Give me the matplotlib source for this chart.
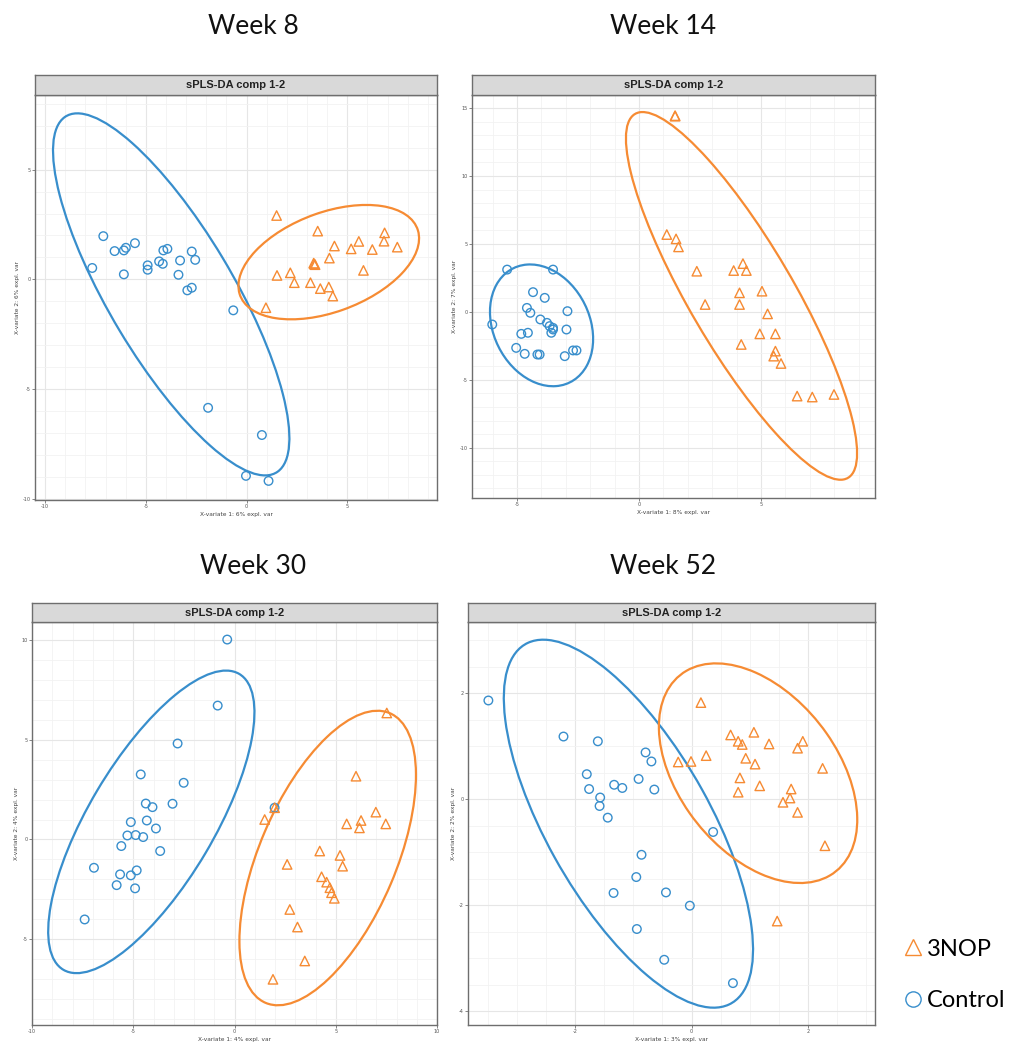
import numpy as np
import matplotlib
matplotlib.use("Agg")
import matplotlib.pyplot as plt
from matplotlib.patches import Ellipse
from matplotlib.lines import Line2D

# ---------------- data ----------------
week_titles = ["Week 8", "Week 14", "Week 30", "Week 52"]
strip_title = "sPLS-DA comp 1-2"
xlabels = ["X-variate 1: 6% expl. var", "X-variate 1: 8% expl. var",
           "X-variate 1: 4% expl. var", "X-variate 1: 3% expl. var"]
ylabels = ["X-variate 2: 6% expl. var", "X-variate 2: 7% expl. var",
           "X-variate 2: 4% expl. var", "X-variate 2: 2% expl. var"]
groups = ["3NOP", "Control"]

# Week 8
w8_ctrl_x = [-7.11, -7.66, -6.55, -6.09, -5.99, -5.54, -6.09, -4.91, -4.91, -4.34, -4.16, -4.13,
             -3.93, -3.30, -3.38, -2.72, -2.55, -2.94, -2.72, -0.66, -1.91, 0.76, -0.03, 1.09]
w8_ctrl_y = [1.97, 0.52, 1.29, 1.32, 1.44, 1.65, 0.23, 0.64, 0.44, 0.82, 0.71, 1.32,
             1.39, 0.86, 0.21, 1.27, 0.89, -0.50, -0.38, -1.41, -5.85, -7.09, -8.95, -9.18]
w8_nop_x = [1.49, 3.53, 4.36, 4.11, 5.19, 5.57, 6.24, 6.85, 6.82, 7.48, 5.80, 3.33, 3.40, 3.36,
            1.51, 2.17, 2.37, 3.17, 3.66, 4.08, 4.28, 0.96]
w8_nop_y = [2.91, 2.20, 1.52, 0.97, 1.39, 1.73, 1.36, 2.12, 1.74, 1.47, 0.41, 0.74, 0.67, 0.70,
            0.18, 0.30, -0.15, -0.15, -0.42, -0.35, -0.76, -1.29]

# Week 14
w14_ctrl_x = [-5.40, -3.52, -4.34, -3.86, -4.59, -4.45, -2.93, -6.01, -4.04, -3.77, -3.66, -3.52,
              -3.59, -4.55, -4.82, -2.97, -5.03, -4.68, -4.16, -4.07, -3.04, -2.70, -2.56, -3.52]
w14_ctrl_y = [3.11, 3.11, 1.45, 1.03, 0.29, -0.07, 0.05, -0.93, -0.56, -0.81, -1.05, -1.18,
              -1.54, -1.54, -1.62, -1.30, -2.65, -3.09, -3.14, -3.14, -3.26, -2.84, -2.84, -1.30]
w14_nop_x = [1.48, 1.48, 1.14, 1.52, 1.62, 2.37, 3.88, 4.26, 4.40, 4.12, 4.12, 2.71, 5.04, 5.27,
             4.95, 5.59, 4.19, 5.59, 5.52, 5.82, 6.48, 7.10, 7.99]
w14_nop_y = [14.44, 14.40, 5.69, 5.37, 4.78, 2.99, 3.04, 3.55, 3.04, 1.40, 0.54, 0.54, 1.52, -0.15,
             -1.62, -1.62, -2.40, -2.89, -3.26, -3.80, -6.20, -6.27, -6.08]

# Week 30
w30_ctrl_x = [-0.36, -0.83, -2.81, -4.63, -2.51, -4.38, -4.05, -3.06, -5.12, -4.33, -3.88, -5.29,
              -4.88, -4.51, -5.59, -3.67, -6.94, -4.83, -5.12, -5.65, -5.82, -4.91, -7.40, 1.98]
w30_ctrl_y = [10.02, 6.71, 4.81, 3.26, 2.84, 1.80, 1.62, 1.79, 0.87, 0.95, 0.55, 0.20,
              0.22, 0.12, -0.33, -0.58, -1.42, -1.55, -1.80, -1.75, -2.29, -2.45, -4.01, 1.59]
w30_nop_x = [7.52, 6.00, 1.98, 1.49, 6.98, 5.54, 6.25, 6.17, 7.47, 4.21, 5.21, 5.34, 2.60,
             4.30, 4.55, 4.71, 4.79, 4.93, 2.73, 3.11, 3.47, 1.90]
w30_nop_y = [6.34, 3.17, 1.59, 1.00, 1.37, 0.78, 0.95, 0.58, 0.78, -0.58, -0.80, -1.34, -1.25,
             -1.87, -2.14, -2.42, -2.67, -2.95, -3.51, -4.39, -6.09, -7.01]

# Week 52
w52_ctrl_x = [-3.49, -2.20, -1.61, -0.79, -0.69, -1.80, -0.91, -1.33, -1.19, -1.76, -0.64, -1.57,
              -1.58, -1.44, 0.37, -0.86, -0.95, -1.34, -0.44, -0.03, -0.94, -0.47, 0.71]
w52_ctrl_y = [1.86, 1.18, 1.09, 0.88, 0.71, 0.47, 0.38, 0.27, 0.21, 0.19, 0.18, 0.03,
              -0.13, -0.35, -0.62, -1.05, -1.47, -1.77, -1.76, -2.01, -2.45, -3.03, -3.47]
w52_nop_x = [0.16, 0.67, 1.07, 0.80, 0.87, 1.33, 1.91, 1.82, 0.25, -0.23, -0.01, 0.93, 1.09,
             2.25, 0.83, 1.17, 0.80, 1.71, 1.69, 1.57, 1.82, 2.29, 1.47]
w52_nop_y = [1.82, 1.21, 1.26, 1.09, 1.03, 1.04, 1.09, 0.96, 0.82, 0.70, 0.71, 0.77, 0.66,
             0.58, 0.40, 0.25, 0.13, 0.19, 0.02, -0.06, -0.25, -0.88, -2.30]

ctrl_x = [w8_ctrl_x, w14_ctrl_x, w30_ctrl_x, w52_ctrl_x]
ctrl_y = [w8_ctrl_y, w14_ctrl_y, w30_ctrl_y, w52_ctrl_y]
nop_x = [w8_nop_x, w14_nop_x, w30_nop_x, w52_nop_x]
nop_y = [w8_nop_y, w14_nop_y, w30_nop_y, w52_nop_y]

xlims = [(-10.5, 9.45), (-6.84, 9.67), (-10.0, 10.0), (-3.84, 3.15)]
ylims = [(-10.05, 8.4), (-13.7, 15.96), (-9.3, 10.9), (-4.26, 3.34)]
xticks = [[-10, -5, 0, 5], [-5, 0, 5], [-10, -5, 0, 5, 10], [-2, 0, 2]]
yticks = [[-10, -5, 0, 5], [-10, -5, 0, 5, 10, 15], [-5, 0, 5, 10], [-4, -2, 0, 2]]

ellipse_level_t = np.sqrt(-2 * np.log(1 - 0.95))  # sqrt(qchisq(0.95, 2))

# ---------------- style ----------------
BLUE = "#388ECC"
ORANGE = "#F68B33"
W, H = 1015, 1046
DPI = 100

fig = plt.figure(figsize=(W / DPI, H / DPI), dpi=DPI)
fig.patch.set_facecolor("white")


def rect(l, t, r, b):
    return [l / W, 1 - b / H, (r - l) / W, (b - t) / H]


panels = [(35, 95, 437, 500), (472, 95, 875, 498), (32, 622, 437, 1025), (468, 622, 875, 1025)]
strips = [(35, 75, 437, 95), (472, 75, 875, 95), (32, 603, 437, 622), (468, 603, 875, 622)]
title_pos = [(253, 26), (663, 26), (253, 566), (663, 566)]


def conf_ellipse(ax, x, y, color):
    x = np.asarray(x)
    y = np.asarray(y)
    cov = np.cov(x, y)
    vals, vecs = np.linalg.eigh(cov)
    order = vals.argsort()[::-1]
    vals, vecs = vals[order], vecs[:, order]
    angle = np.degrees(np.arctan2(vecs[1, 0], vecs[0, 0]))
    e = Ellipse((x.mean(), y.mean()), 2 * ellipse_level_t * np.sqrt(vals[0]),
                2 * ellipse_level_t * np.sqrt(vals[1]), angle=angle,
                fill=False, edgecolor=color, linewidth=1.6, zorder=3)
    ax.add_patch(e)


for i in range(4):
    ax = fig.add_axes(rect(*panels[i]))
    ax.set_facecolor("white")
    ax.set_xlim(*xlims[i])
    ax.set_ylim(*ylims[i])
    ax.set_xticks(xticks[i])
    ax.set_yticks(yticks[i])
    ax.set_xticklabels([str(v) for v in xticks[i]], fontsize=3.5, color="#555555")
    ax.set_yticklabels([str(v) for v in yticks[i]], fontsize=3.5, color="#555555")
    ax.minorticks_on()
    ax.grid(True, which="major", color="#E6E6E6", linewidth=0.8, zorder=0)
    ax.grid(True, which="minor", color="#F2F2F2", linewidth=0.6, zorder=0)
    ax.tick_params(which="minor", length=0)
    ax.tick_params(which="major", length=2, width=0.5, color="#555555", pad=1)
    for sp in ax.spines.values():
        sp.set_color("#6e6e6e")
        sp.set_linewidth(1.0)
    ax.set_axisbelow(True)
    ax.set_xlabel(xlabels[i], fontsize=4.2, color="#444444", labelpad=2)
    ax.set_ylabel(ylabels[i], fontsize=4.2, color="#444444", labelpad=2)

    ax.scatter(ctrl_x[i], ctrl_y[i], marker="o", s=38, facecolors="none",
               edgecolors=BLUE, linewidths=1.0, zorder=4)
    ax.scatter(nop_x[i], nop_y[i], marker="^", s=46, facecolors="none",
               edgecolors=ORANGE, linewidths=1.0, zorder=4)
    conf_ellipse(ax, ctrl_x[i], ctrl_y[i], BLUE)
    conf_ellipse(ax, nop_x[i], nop_y[i], ORANGE)

    sax = fig.add_axes(rect(*strips[i]))
    sax.set_facecolor("#D9D9D9")
    sax.set_xticks([])
    sax.set_yticks([])
    for sp in sax.spines.values():
        sp.set_color("#6e6e6e")
        sp.set_linewidth(1.0)
    sax.text(0.5, 0.5, strip_title, ha="center", va="center", fontsize=8,
             fontweight="bold", color="#222222", family="Liberation Sans",
             transform=sax.transAxes)

    tx, ty = title_pos[i]
    fig.text(tx / W, 1 - ty / H, week_titles[i], ha="center", va="center",
             fontsize=19, family="Lato", color="#111111")

handles = [Line2D([], [], marker="^", linestyle="none", markersize=11,
                  markerfacecolor="none", markeredgecolor=ORANGE, markeredgewidth=1.0),
           Line2D([], [], marker="o", linestyle="none", markersize=11,
                  markerfacecolor="none", markeredgecolor=BLUE, markeredgewidth=1.0)]
fig.legend(handles, groups, loc="center left",
           bbox_to_anchor=(893 / W, 1 - 975 / H), frameon=False,
           prop={"family": "Lato", "size": 17}, handletextpad=0.15,
           handlelength=0.9, labelspacing=1.3, borderaxespad=0)

fig.savefig("out.png", dpi=DPI, facecolor="white")
